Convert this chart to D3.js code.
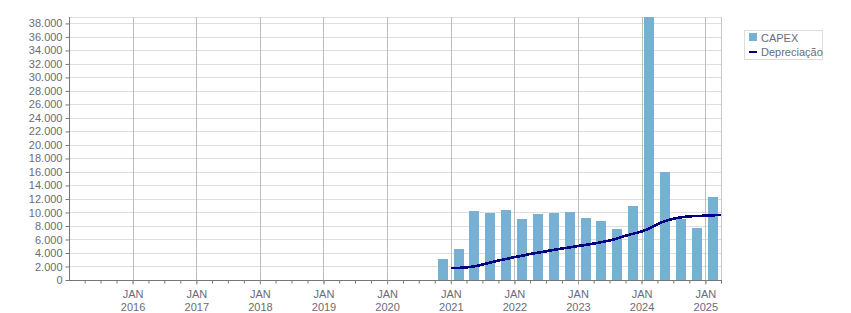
<!DOCTYPE html>
<meta charset="utf-8">
<script src="https://d3js.org/d3.v7.min.js"></script>
<style>
  body { margin: 0; background: #fff; }
  text { font-family: "Liberation Sans", Arial, sans-serif; font-size: 11px; fill: #6b6b78; }
</style>
<div id="chart"></div>
<script>

// CAPEX per quarter (bars sit in the middle of each quarter)
var capexDates = ["2020-11-15", "2021-02-15", "2021-05-15", "2021-08-15", "2021-11-15",
                  "2022-02-15", "2022-05-15", "2022-08-15", "2022-11-15",
                  "2023-02-15", "2023-05-15", "2023-08-15", "2023-11-15",
                  "2024-02-15", "2024-05-15", "2024-08-15", "2024-11-15", "2025-02-15"];
var capexValues = [3100, 4600, 10250, 9950, 10400, 9050, 9800, 9950, 10100,
                   9200, 8750, 7550, 11000, 38950, 16000, 9050, 7700, 12300];

// Depreciação, monthly from Jan 2021
var deprecStart = "2021-01-01";
var deprecValues = [1780, 1790, 1810, 1860, 1960, 2100, 2280, 2480, 2680, 2870, 3040, 3200,
                    3380, 3530, 3680, 3850, 3980, 4100, 4250, 4400, 4530, 4660, 4780, 4910,
                    5030, 5150, 5270, 5390, 5530, 5680, 5850, 6050, 6300, 6550, 6780, 6960,
                    7180, 7500, 7850, 8250, 8600, 8850, 9080, 9220, 9350, 9420, 9470, 9500,
                    9520, 9560, 9600, 9620];

var yTicks = [0, 2000, 4000, 6000, 8000, 10000, 12000, 14000, 16000, 18000, 20000,
              22000, 24000, 26000, 28000, 30000, 32000, 34000, 36000, 38000];
var xYears = ["2016", "2017", "2018", "2019", "2020", "2021", "2022", "2023", "2024", "2025"];
var legendLabels = ["CAPEX", "Depreciação"];

var W = 851, H = 313;
var pLeft = 69, pRight = 721, pTop = 17, pBottom = 280;

var svg = d3.select("#chart").append("svg")
    .attr("width", W)
    .attr("height", H);

var x = d3.scaleUtc()
  .domain([new Date("2015-01-01"), new Date("2025-04-01")])
  .range([pLeft, pRight]);

var y = d3.scaleLinear()
  .domain([0, 38950])
  .range([pBottom, pTop]);

var ptBR = d3.formatLocale({decimal: ",", thousands: ".", grouping: [3], currency: ["", ""]});
var fmt = ptBR.format(",d");

var janDates = xYears.map(function(yr) { return new Date(yr + "-01-01"); });

// horizontal grid
svg.append("g")
  .selectAll("line")
  .data(yTicks.filter(function(d) { return d > 0; }))
  .enter().append("line")
    .attr("x1", pLeft).attr("x2", pRight)
    .attr("y1", function(d) { return Math.round(y(d)) + 0.5; })
    .attr("y2", function(d) { return Math.round(y(d)) + 0.5; })
    .attr("stroke", "#dedede");

// top + right border
svg.append("line")
  .attr("x1", pLeft).attr("x2", pRight).attr("y1", pTop + 0.5).attr("y2", pTop + 0.5)
  .attr("stroke", "#dedede");
svg.append("line")
  .attr("x1", pRight + 0.5).attr("x2", pRight + 0.5).attr("y1", pTop).attr("y2", pBottom)
  .attr("stroke", "#c8c8c8");

// vertical grid at each January
svg.append("g")
  .selectAll("line")
  .data(janDates)
  .enter().append("line")
    .attr("x1", function(d) { return Math.round(x(d)) + 0.5; })
    .attr("x2", function(d) { return Math.round(x(d)) + 0.5; })
    .attr("y1", pTop).attr("y2", pBottom)
    .attr("stroke", "#bdbdbd");

// plot area clip
svg.append("clipPath").attr("id", "plotclip")
  .append("rect").attr("x", pLeft).attr("y", pTop).attr("width", pRight - pLeft).attr("height", pBottom - pTop);

var plot = svg.append("g").attr("clip-path", "url(#plotclip)");

// bars
var barW = 10;
plot.selectAll("rect.bar")
  .data(capexValues)
  .enter().append("rect")
    .attr("class", "bar")
    .attr("x", function(d, i) { return Math.round(x(new Date(capexDates[i])) - barW / 2); })
    .attr("y", function(d) { return Math.round(y(d)); })
    .attr("width", barW)
    .attr("height", function(d) { return pBottom - Math.round(y(d)); })
    .attr("fill", "#78b0d3");

// depreciation line
var months = d3.utcMonth.range(new Date(deprecStart), d3.utcMonth.offset(new Date(deprecStart), deprecValues.length));
var line = d3.line()
  .x(function(d, i) { return x(months[i]); })
  .y(function(d) { return y(d); });

plot.append("path")
  .datum(deprecValues)
  .attr("d", line)
  .attr("fill", "none")
  .attr("stroke", "#000080")
  .attr("stroke-width", 2.6)
  .attr("shape-rendering", "crispEdges");

// Y axis
var yAxis = svg.append("g")
  .attr("transform", "translate(" + (pLeft + 0.5) + ",0)")
  .call(d3.axisLeft(y).tickValues(yTicks).tickSize(4).tickPadding(3).tickFormat(fmt));
yAxis.select(".domain").attr("stroke", "#777").attr("d", "M0," + pTop + "V" + (pBottom + 0.5));
yAxis.selectAll(".tick line").attr("stroke", "#777");
yAxis.selectAll("text").attr("fill", null).attr("font-family", null).attr("font-size", null);

// X axis: quarterly minor ticks
var quarters = d3.utcMonth.every(3).range(new Date("2015-04-01"), new Date("2025-04-02"));
var xMinor = svg.append("g")
  .attr("transform", "translate(0," + (pBottom + 0.5) + ")")
  .call(d3.axisBottom(x).tickValues(quarters).tickSize(3).tickFormat(""));
xMinor.select(".domain").attr("stroke", "#777").attr("d", "M" + pLeft + ",0H" + (pRight + 1));
xMinor.selectAll(".tick line").attr("stroke", "#777");

// X axis: January labels
var xMajor = svg.append("g")
  .attr("transform", "translate(0," + (pBottom + 0.5) + ")")
  .call(d3.axisBottom(x).tickValues(janDates).tickSize(4).tickFormat(""));
xMajor.select(".domain").remove();
xMajor.selectAll(".tick line").attr("stroke", "#999");
xMajor.selectAll(".tick").append("text")
  .attr("text-anchor", "middle")
  .attr("y", 17)
  .text("JAN");
xMajor.selectAll(".tick").append("text")
  .attr("text-anchor", "middle")
  .attr("y", 30)
  .text(function(d, i) { return xYears[i]; });
xMajor.attr("font-family", null).attr("font-size", null);

// legend
var lg = svg.append("g").attr("transform", "translate(744,30)");
lg.append("rect")
  .attr("x", 0.5).attr("y", 0.5).attr("width", 78).attr("height", 29)
  .attr("fill", "#fff").attr("stroke", "#dcdcdc");
lg.append("rect")
  .attr("x", 5).attr("y", 3).attr("width", 8).attr("height", 8)
  .attr("fill", "#78b0d3");
lg.append("line")
  .attr("x1", 5).attr("x2", 13).attr("y1", 22).attr("y2", 22)
  .attr("stroke", "#000080").attr("stroke-width", 2);
lg.append("text").attr("x", 17).attr("y", 12).text(legendLabels[0]);
lg.append("text").attr("x", 17).attr("y", 26).text(legendLabels[1]);

</script>
